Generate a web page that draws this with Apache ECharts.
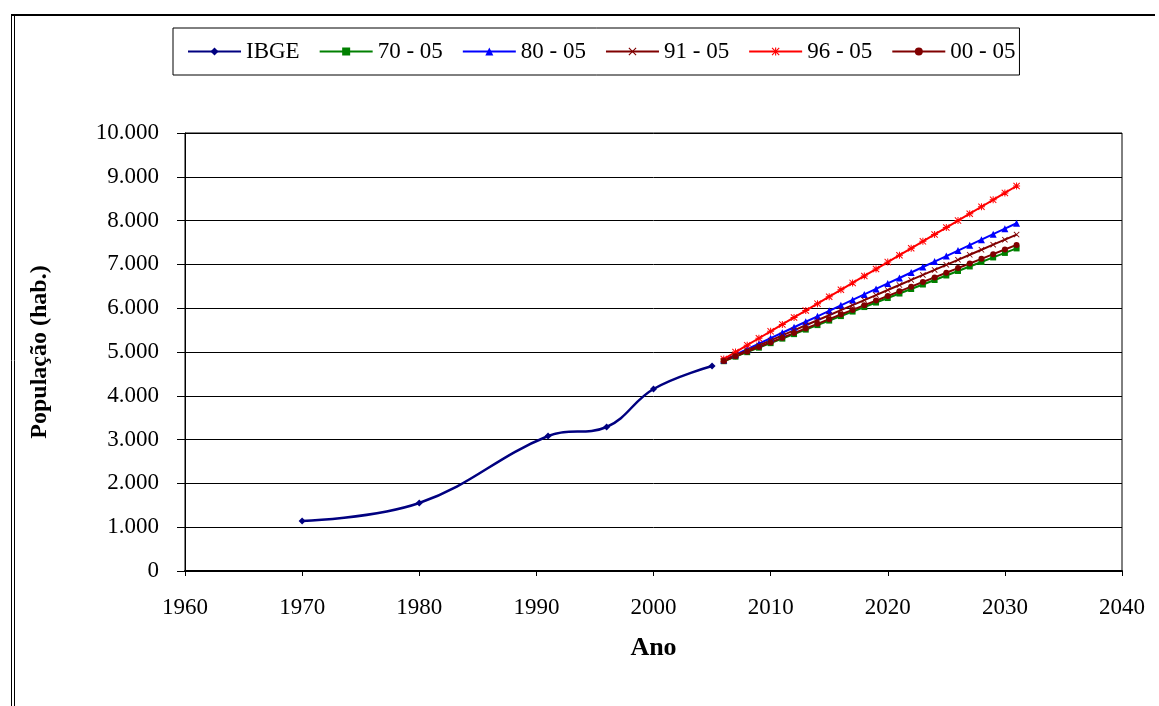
<!DOCTYPE html>
<html>
<head>
<meta charset="utf-8">
<script src="https://cdn.jsdelivr.net/npm/echarts@6/dist/echarts.min.js"></script>
<style>
  html, body { margin: 0; padding: 0; background: #fff; }
  #chart { width: 1159px; height: 706px; }
</style>
</head>
<body>
<div id="chart"></div>
<script>
// Census counts (IBGE)
const ibgeYears = [1970, 1980, 1991, 1996, 2000, 2005];
const ibgePop   = [1142, 1553, 3082, 3288, 4155, 4680];

// Projection horizon
const projYears = [2006, 2007, 2008, 2009, 2010, 2011, 2012, 2013, 2014, 2015, 2016, 2017, 2018,
                   2019, 2020, 2021, 2022, 2023, 2024, 2025, 2026, 2027, 2028, 2029, 2030, 2031];

// Arithmetic projections, one per base period
const proj7005 = [4790, 4893, 4996, 5099, 5202, 5305, 5408, 5511, 5614, 5717, 5820, 5923, 6026,
                  6129, 6232, 6335, 6438, 6541, 6644, 6747, 6850, 6953, 7056, 7159, 7262, 7365];
const proj8005 = [4815, 4940, 5065, 5190, 5315, 5440, 5565, 5690, 5815, 5940, 6065, 6190, 6315,
                  6440, 6565, 6690, 6815, 6940, 7065, 7190, 7315, 7440, 7565, 7690, 7815, 7940];
const proj9105 = [4805, 4920, 5035, 5150, 5265, 5380, 5495, 5610, 5725, 5840, 5955, 6070, 6185,
                  6300, 6415, 6530, 6645, 6760, 6875, 6990, 7105, 7220, 7335, 7450, 7565, 7680];
const proj9605 = [4840, 4998, 5156, 5314, 5472, 5630, 5788, 5946, 6104, 6262, 6420, 6578, 6736,
                  6894, 7052, 7210, 7368, 7526, 7684, 7842, 8000, 8158, 8316, 8474, 8632, 8790];
const proj0005 = [4795, 4901, 5007, 5113, 5219, 5325, 5431, 5537, 5643, 5749, 5855, 5961, 6067,
                  6173, 6279, 6385, 6491, 6597, 6703, 6809, 6915, 7021, 7127, 7233, 7339, 7445];

const seriesNames = ['IBGE', '70 - 05', '80 - 05', '91 - 05', '96 - 05', '00 - 05'];

const FONT = '"Liberation Serif", "Times New Roman", serif';
const SYM_X = 'path://M1,0L5,4L9,0L10,1L6,5L10,9L9,10L5,6L1,10L0,9L4,5L0,1Z';
const SYM_STAR = 'path://M1,0L5,4L9,0L10,1L6,5L10,9L9,10L5,6L1,10L0,9L4,5L0,1Z M4.3,0H5.7V10H4.3Z M0,4.3H10V5.7H0Z';

function pairs(xs, ys) { return xs.map((x, i) => [x, ys[i]]); }
function thousands(v) { return String(v).replace(/\B(?=(\d{3})+(?!\d))/g, '.'); }

function projSeries(name, data, color, symbol, size) {
  return {
    name: name,
    type: 'line',
    data: pairs(projYears, data),
    symbol: symbol,
    symbolSize: size,
    showAllSymbol: true,
    lineStyle: { color: color, width: 2 },
    itemStyle: { color: color },
    z: 3
  };
}

const chart = echarts.init(document.getElementById('chart'), null, { renderer: 'canvas' });

chart.setOption({
  animation: false,
  backgroundColor: '#fff',
  graphic: [
    // outer frame: top rule and double left rule
    { type: 'line', shape: { x1: 11, y1: 15, x2: 1155, y2: 15 }, style: { stroke: '#000', lineWidth: 2 } },
    { type: 'line', shape: { x1: 11.5, y1: 15, x2: 11.5, y2: 706 }, style: { stroke: '#000', lineWidth: 1 } },
    { type: 'line', shape: { x1: 14.5, y1: 15, x2: 14.5, y2: 706 }, style: { stroke: '#000', lineWidth: 1 } }
  ],
  legend: {
    data: seriesNames,
    left: 173,
    top: 28,
    orient: 'horizontal',
    padding: [12, 4, 12, 14],
    itemGap: 19,
    itemWidth: 53,
    itemHeight: 10,
    borderColor: '#000',
    borderWidth: 1,
    backgroundColor: '#fff',
    textStyle: { fontFamily: FONT, fontSize: 23, color: '#000' }
  },
  grid: {
    left: 185, right: 37, top: 133, bottom: 135,
    show: true, borderColor: '#000', borderWidth: 1
  },
  xAxis: {
    type: 'value',
    min: 1960, max: 2040, interval: 10,
    name: 'Ano',
    nameLocation: 'middle',
    nameGap: 64,
    nameTextStyle: { fontFamily: FONT, fontSize: 26, fontWeight: 'bold', color: '#000' },
    axisLine: { onZero: false, lineStyle: { color: '#000', width: 2 } },
    axisTick: { show: true, length: 5, inside: false, lineStyle: { color: '#000' } },
    axisLabel: { fontFamily: FONT, fontSize: 23, color: '#000', margin: 25, formatter: v => String(v) },
    splitLine: { show: false }
  },
  yAxis: {
    type: 'value',
    min: 0, max: 10000, interval: 1000,
    name: 'População (hab.)',
    nameLocation: 'middle',
    nameGap: 133,
    nameRotate: 90,
    nameTextStyle: { fontFamily: FONT, fontSize: 24, fontWeight: 'bold', color: '#000' },
    axisLine: { show: true, lineStyle: { color: '#000', width: 1 } },
    axisTick: { show: true, length: 8, inside: false, lineStyle: { color: '#000' } },
    axisLabel: { fontFamily: FONT, fontSize: 23, color: '#000', margin: 26, formatter: thousands },
    splitLine: { show: true, lineStyle: { color: '#000', width: 1 } }
  },
  series: [
    {
      name: 'IBGE',
      type: 'line',
      data: pairs(ibgeYears, ibgePop),
      smooth: 0.4,
      symbol: 'diamond',
      symbolSize: 7,
      lineStyle: { color: '#000080', width: 2.5 },
      itemStyle: { color: '#000080' },
      z: 3
    },
    projSeries('70 - 05', proj7005, '#008000', 'rect', 6),
    projSeries('80 - 05', proj8005, '#0000FF', 'triangle', 7),
    projSeries('91 - 05', proj9105, '#800000', SYM_X, 6),
    projSeries('96 - 05', proj9605, '#FF0000', SYM_STAR, 7),
    projSeries('00 - 05', proj0005, '#800000', 'circle', 6)
  ]
});
</script>
</body>
</html>
